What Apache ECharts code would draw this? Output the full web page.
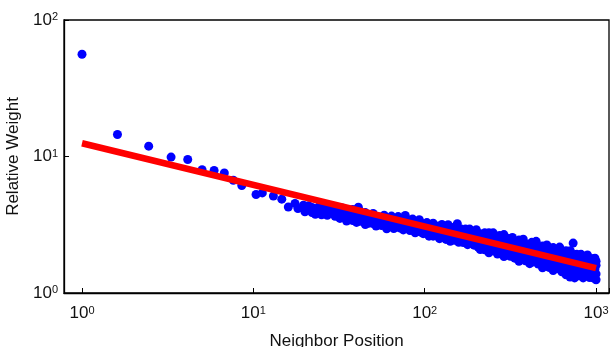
<!DOCTYPE html>
<html>
<head>
<meta charset="utf-8">
<script src="https://cdn.jsdelivr.net/npm/echarts@6/dist/echarts.min.js"></script>
<style>
  html, body { margin: 0; padding: 0; background: #fff; }
  #chartmain { width: 611px; height: 347px; }
</style>
</head>
<body>
<div id="chartmain"></div>
<script>
// first few neighbors, read one by one
var headX = [1, 1.61, 2.45, 3.31, 4.14, 5.02, 5.9, 6.77, 7.64, 8.56, 10.37, 11.28, 13.09, 14.65, 16.0, 17.5, 18.2, 19.6];
var headY = [56.1, 14.5, 11.9, 9.9, 9.5, 8.0, 7.9, 7.58, 6.70, 6.13, 5.27, 5.41, 5.14, 4.87, 4.27, 4.53, 4.16, 4.40];

// dense part of the cloud: one x, several y values read at that x
var bandX = [20, 21, 22, 23, 24, 25, 26, 27, 28, 30, 32, 33, 35, 37, 38, 40, 41, 42, 44, 45, 47, 48, 50, 52, 54, 56, 58, 60,
  62, 64, 66, 68, 70, 72, 75, 77, 78, 80, 82, 85, 88, 90, 93, 95, 98, 100, 103, 106, 109, 112, 116, 119, 122, 126, 129,
  133, 137, 141, 145, 150, 155, 158, 163, 168, 173, 178, 183, 188, 194, 200, 205, 211, 218, 224, 230, 237, 244, 251,
  258, 266, 274, 282, 290, 299, 307, 316, 325, 335, 345, 355, 365, 376, 387, 398, 410, 422, 434, 447, 460, 473, 487,
  501, 516, 531, 546, 562, 579, 596, 613, 631, 649, 668, 688, 705, 708, 729, 735, 750, 772, 794, 817, 841, 866, 891,
  917, 944, 962, 972, 985, 1000];
var bandY = [
  [4.30, 3.93], [4.36, 4.08], [3.89, 4.23], [4.03, 3.77], [4.26, 3.91], [4.00, 3.74], [4.22, 3.88], [3.97, 3.71],
  [4.20, 3.86], [4.25, 3.65, 3.91], [3.96, 3.52], [4.20, 3.73], [3.86, 3.37, 3.99], [3.54, 3.85], [4.09, 3.40],
  [3.58, 3.89, 3.29], [3.67, 4.25], [3.35, 3.90], [3.41, 3.72], [3.17, 3.88], [3.46, 3.24], [3.68],
  [3.51, 3.23, 3.82], [3.30, 3.09], [3.61, 3.37], [3.12, 3.45], [3.71, 3.25], [3.32, 2.95],
  [3.46, 3.07], [3.66, 3.20], [3.28, 2.97], [3.42, 3.09], [3.63, 3.17], [2.99, 3.31], [3.21, 3.43, 2.90], [3.70],
  [3.02], [3.42, 3.09], [2.87], [3.19, 2.94, 3.48], [3.06, 2.76], [3.25, 2.88], [3.06, 3.44], [2.79, 2.93],
  [3.21, 2.72], [3.04, 2.84], [3.28, 2.72], [2.89, 2.61], [3.06, 2.77], [2.89, 3.25, 2.61], [2.67, 2.95],
  [3.08, 2.74], [2.50, 2.86], [3.18, 2.74, 2.56], [2.91, 2.63],
  [2.47, 3.03], [2.71, 3.16], [2.51, 2.88, 2.39], [3.00, 2.62], [2.43, 2.73, 3.05], [3.22, 2.53], [2.35, 2.82],
  [2.94, 2.57, 2.40], [2.68, 2.34], [2.94, 2.44], [2.55, 2.26, 2.77], [2.94, 2.36], [2.42, 2.63],
  [2.79, 2.24, 2.44], [2.91, 2.30, 2.50], [2.17, 2.61], [2.72, 2.34, 2.08], [2.47, 2.20], [2.76, 2.26, 2.07],
  [2.56, 2.13], [2.33, 2.76, 1.97], [2.51, 2.16], [2.04, 2.41, 2.76],
  [2.20, 2.60], [2.45, 1.93, 2.10], [2.64, 2.23], [2.00, 2.44, 2.25], [2.08, 2.68, 1.85], [2.28, 1.93],
  [2.51, 2.12, 1.98], [1.86, 2.36], [2.19, 1.98, 2.55], [1.80, 2.36, 2.06], [2.22, 1.88], [2.44, 1.96, 1.71],
  [2.08, 2.30, 1.82], [1.89, 2.48], [2.11, 1.72, 1.97], [2.27, 1.80], [1.91, 2.14, 1.64], [2.35, 1.80, 1.99],
  [1.69, 2.11], [2.02, 1.83, 2.39], [1.63, 2.18, 1.90], [1.98, 1.71], [2.21, 1.81, 1.53],
  [1.70, 2.05], [1.90, 1.60, 2.25], [1.79, 2.08, 1.54], [1.96, 1.66], [2.15, 1.73, 1.46], [1.86, 1.58, 1.99],
  [1.67, 2.08, 1.51], [1.80, 1.60, 2.17], [1.97, 1.67, 1.43], [1.86, 1.52], [1.70, 2.04, 1.36], [1.89, 1.57],
  [1.31], [1.75, 1.43, 2.04], [1.60, 1.92], [2.32], [1.81, 1.48, 1.29], [1.68, 1.42, 1.92], [1.58, 1.81, 1.34],
  [1.92, 1.49, 1.71], [1.40, 1.72, 1.29], [1.79, 1.57, 1.35], [1.63, 1.43, 1.90],
  [1.49, 1.79, 1.30], [1.69, 1.36, 1.58], [1.29], [1.44, 1.79, 1.32], [1.80, 1.50], [1.60, 1.38, 1.25, 1.71]
];

// power-law fit drawn in red
var fitX = [1, 1000];
var fitY = [12.5, 1.52];

var textColor = '#111';
var fontName = 'Liberation Sans, Arial, sans-serif';

var points = [];
for (var i = 0; i < headX.length; i++) {
    points.push([headX[i], headY[i]]);
}
for (var j = 0; j < bandX.length; j++) {
    for (var k = 0; k < bandY[j].length; k++) {
        points.push([bandX[j], bandY[j][k]]);
    }
}
var fitLine = fitX.map(function (x, i) { return [x, fitY[i]]; });

function powLabel(v) {
    var lg = Math.log10(v);
    var e = Math.round(lg);
    if (Math.abs(lg - e) > 1e-6) return '';
    return '{b|10}{e|' + e + '}';
}

var labelRich = {
    b: { fontSize: 17, lineHeight: 17, color: textColor, fontFamily: fontName },
    e: { fontSize: 11, lineHeight: 5, verticalAlign: 'top', color: textColor, fontFamily: fontName }
};

var option = {
    animation: false,
    backgroundColor: '#fff',
    grid: {
        left: 64,
        right: 2,
        top: 20,
        bottom: 54,
        containLabel: false,
        outerBoundsMode: 'none',
        show: true,
        borderColor: '#000',
        borderWidth: 1.3
    },
    xAxis: {
        type: 'log',
        logBase: 10,
        min: 0.785,
        max: 1190,
        name: 'Neighbor Position',
        nameLocation: 'middle',
        nameGap: 40,
        nameTextStyle: { fontSize: 17, color: textColor, fontFamily: fontName },
        splitLine: { show: false },
        minorTick: { show: false },
        axisLine: { show: true, lineStyle: { color: '#000', width: 1.3 } },
        axisTick: { show: true, inside: true, length: 5, lineStyle: { color: '#000' } },
        axisLabel: { margin: 12, formatter: powLabel, rich: labelRich, showMinLabel: true, showMaxLabel: true }
    },
    yAxis: {
        type: 'log',
        logBase: 10,
        min: 1,
        max: 100,
        name: 'Relative Weight',
        nameLocation: 'middle',
        nameGap: 37,
        nameTextStyle: { fontSize: 17, color: textColor, fontFamily: fontName },
        splitLine: { show: false },
        minorTick: { show: false },
        axisLine: { show: true, lineStyle: { color: '#000', width: 1.3 } },
        axisTick: { show: true, inside: true, length: 5, lineStyle: { color: '#000' } },
        axisLabel: { margin: 6, formatter: powLabel, rich: labelRich }
    },
    series: [{
        type: 'scatter',
        data: points,
        symbolSize: 9,
        itemStyle: { color: '#0000ff', opacity: 1 },
        z: 2
    }, {
        type: 'line',
        data: fitLine,
        showSymbol: false,
        lineStyle: { color: '#ff0000', width: 6.5 },
        z: 3
    }]
};

var myChart = echarts.init(document.getElementById('chartmain'));
myChart.setOption(option);
</script>
</body>
</html>
